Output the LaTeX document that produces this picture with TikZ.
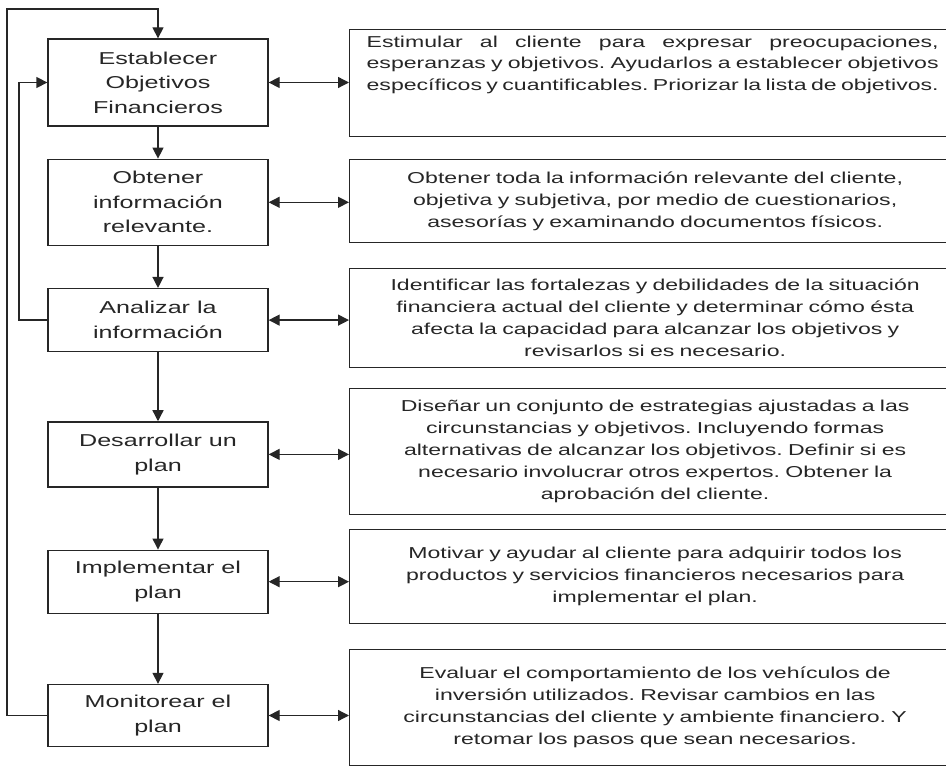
\documentclass[tikz,border=0pt]{standalone}
\usepackage{fontspec}
\setmainfont{Liberation Sans}[FakeStretch=1.46]
\usetikzlibrary{arrows.meta,positioning}
\definecolor{ink}{HTML}{262626}
\newcommand{\stepfont}{\fontsize{17.2pt}{24.5pt}\selectfont}
\newcommand{\notefont}{\fontsize{15.8pt}{22pt}\selectfont}
\frenchspacing

\begin{document}
\begin{tikzpicture}[x=1pt,y=1pt,line width=1.3pt,color=ink,
  >={Triangle[length=11pt,width=11pt]},
  stepbox/.style={draw,minimum width=220pt,align=center,font=\stepfont,inner sep=0pt},
  notebox/.style={draw,anchor=north west,inner xsep=10pt,text width=591pt,align=center,font=\notefont}]
\useasboundingbox (0,0) rectangle (946,-767);

% steps
\node (l1) [stepbox,minimum height=87pt] at (158,-82.5) {Establecer\\Objetivos\\Financieros};
\node (l2) [stepbox,minimum height=86pt,below=32pt of l1] {Obtener\\información\\relevante.};
\node (l3) [stepbox,minimum height=63pt,below=42pt of l2] {Analizar la\\información};
\node (l4) [stepbox,minimum height=65pt,below=69pt of l3] {Desarrollar un\\plan};
\node (l5) [stepbox,minimum height=63pt,below=62pt of l4] {Implementar el\\plan};
\node (l6) [stepbox,minimum height=62pt,below=70pt of l5] {Monitorear el\\plan};

% notes
\node (r1) [draw,anchor=north west,inner xsep=17pt,inner ysep=6pt,font=\notefont] at (349,-29)
  {\parbox[c][95pt][t]{572pt}{\baselineskip=21.5pt
   \makebox[\linewidth][s]{Estimular al cliente para expresar preocupaciones,}\\
   esperanzas y objetivos. Ayudarlos a establecer objetivos\\
   específicos y cuantificables. Priorizar la lista de objetivos.}};
\node (r2) [notebox,minimum height=83pt] at (349,-159)
  {Obtener toda la información relevante del cliente,\\objetiva y subjetiva, por medio de cuestionarios,\\asesorías y examinando documentos físicos.};
\node (r3) [notebox,minimum height=99pt] at (349,-268)
  {Identificar las fortalezas y debilidades de la situación\\financiera actual del cliente y determinar cómo ésta\\afecta la capacidad para alcanzar los objetivos y\\revisarlos si es necesario.};
\node (r4) [notebox,minimum height=126pt] at (349,-388)
  {Diseñar un conjunto de estrategias ajustadas a las\\circunstancias y objetivos. Incluyendo formas\\alternativas de alcanzar los objetivos. Definir si es\\necesario involucrar otros expertos. Obtener la\\aprobación del cliente.};
\node (r5) [notebox,minimum height=94pt] at (349,-529)
  {Motivar y ayudar al cliente para adquirir todos los\\productos y servicios financieros necesarios para\\implementar el plan.};
\node (r6) [notebox,minimum height=116pt] at (349,-649)
  {Evaluar el comportamiento de los vehículos de\\inversión utilizados. Revisar cambios en las\\circunstancias del cliente y ambiente financiero. Y\\retomar los pasos que sean necesarios.};

% flow
\draw[->] (l1) -- (l2);
\draw[->] (l2) -- (l3);
\draw[->] (l3) -- (l4);
\draw[->] (l4) -- (l5);
\draw[->] (l5) -- (l6);

\draw[<->] (l1) -- (l1 -| r1.west);
\draw[<->] (l2) -- (l2 -| r2.west);
\draw[<->] (l3) -- (l3 -| r3.west);
\draw[<->] (l4) -- (l4 -| r4.west);
\draw[<->] (l5) -- (l5 -| r5.west);
\draw[<->] (l6) -- (l6 -| r6.west);

% feedback
\coordinate (back) at (7,-9);
\coordinate (loop) at (19,-82.5);
\draw[->] (l6.west) -| (back) -| (l1.north);
\draw[->] (l3.west) -| (loop) -- (l1.west);
\end{tikzpicture}
\end{document}
